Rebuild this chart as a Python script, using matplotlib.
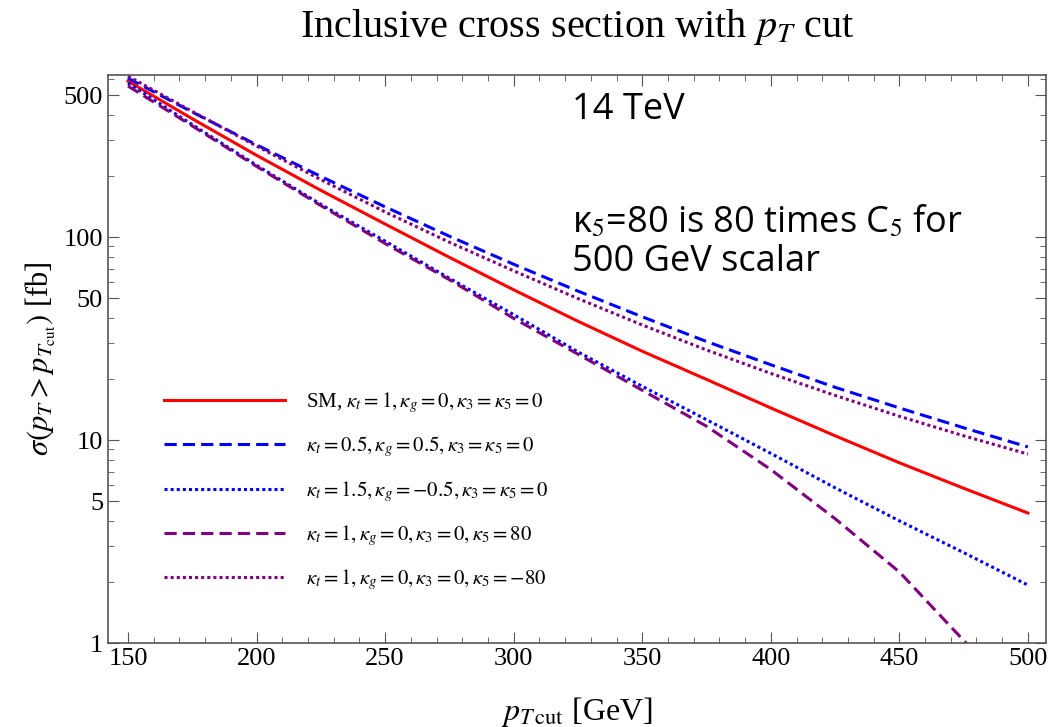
import matplotlib
matplotlib.use('Agg')
import matplotlib.pyplot as plt

plt.rcParams['font.family'] = ['Liberation Serif', 'DejaVu Serif']
plt.rcParams['mathtext.fontset'] = 'stix'

# pT cut values [GeV]
pt_cut = [150, 175, 200, 225, 250, 275, 300, 325, 350, 375, 400, 425, 450, 475, 500]

# sigma(pT > pT_cut) [fb]
sm = [587, 383, 253, 170, 116, 79.5, 55.0, 38.5, 27.4, 19.9, 14.4, 10.5, 7.73, 5.79, 4.37]
kt05_kg05 = [607, 413, 285, 199, 141, 101, 73.5, 54.2, 40.5, 30.6, 23.5, 18.2, 14.4, 11.5, 9.25]
kt15_kgm05 = [574, 358, 226, 145, 95.5, 62.7, 41.5, 27.2, 18.4, 12.6, 8.6, 5.82, 4.0, 2.79, 1.93]
k5_p80 = [555, 353, 223, 143, 93.0, 61.7, 39.8, 26.5, 17.6, 11.7, 7.16, 4.1, 2.24, 1.03, 0.48]
k5_m80 = [621, 416, 281, 192, 133, 94.4, 68.2, 49.8, 36.9, 27.8, 21.3, 16.6, 13.1, 10.5, 8.53]

labels = [
    r'SM, $\kappa_t = 1, \kappa_g = 0, \kappa_3 = \kappa_5 = 0$',
    r'$\kappa_t = 0.5, \kappa_g = 0.5, \kappa_3 = \kappa_5 = 0$',
    r'$\kappa_t = 1.5, \kappa_g = -0.5, \kappa_3 = \kappa_5 = 0$',
    r'$\kappa_t = 1, \kappa_g = 0, \kappa_3 = 0, \kappa_5 = 80$',
    r'$\kappa_t = 1, \kappa_g = 0, \kappa_3 = 0, \kappa_5 = -80$',
]

purple = '#800080'

fig = plt.figure(figsize=(10.48, 7.27), dpi=100)
ax = fig.add_axes([0.103, 0.1155, 0.895, 0.7815])

lw = 2.2
ax.plot(pt_cut, sm, color='red', lw=lw, label=labels[0])
ax.plot(pt_cut, kt05_kg05, color='blue', lw=lw, dashes=(4, 2), label=labels[1])
ax.plot(pt_cut, kt15_kgm05, color='blue', lw=lw, dashes=(1, 1), label=labels[2])
ax.plot(pt_cut, k5_p80, color=purple, lw=lw, dashes=(4, 2), label=labels[3])
ax.plot(pt_cut, k5_m80, color=purple, lw=lw, dashes=(1, 1), label=labels[4])

ax.set_yscale('log')
ax.set_xlim(142.2, 507)
ax.set_ylim(1, 630)
ax.set_xticks([150, 200, 250, 300, 350, 400, 450, 500])
ax.set_xticks(range(150, 501, 10), minor=True)
ax.set_yticks([1, 5, 10, 50, 100, 500])
ax.set_yticklabels(['1', '5', '10', '50', '100', '500'])

for s in ax.spines.values():
    s.set_color('#555555')
    s.set_linewidth(1.2)
ax.tick_params(which='both', direction='in', top=True, right=True, colors='#555555',
               labelcolor='black', labelsize=19)
ax.tick_params(which='major', length=8)
ax.tick_params(which='minor', length=4)

ax.set_title(r'Inclusive cross section with $p_T$ cut', fontsize=29, pad=27)
ax.set_xlabel(r'$p_{T\,\mathrm{cut}}$ [GeV]', fontsize=23, labelpad=18)
ax.set_ylabel(r'$\sigma(p_T > p_{T_{\mathrm{cut}}})$ [fb]', fontsize=22, labelpad=4)

leg = ax.legend(loc='upper left', bbox_to_anchor=(0.04, 0.478), frameon=False,
                fontsize=15, handlelength=5.8, handletextpad=1.0, labelspacing=0.93)

ax.text(0.495, 0.938, '14 TeV', transform=ax.transAxes, fontsize=26,
        family='Open Sans', va='center', ha='left')
ax.text(0.495, 0.705, r'κ$_5$=80 is 80 times C$_5$ for' + '\n' + '500 GeV scalar',
        transform=ax.transAxes, fontsize=26, family='Open Sans', va='center',
        ha='left', linespacing=1.1)

fig.savefig('out.png', dpi=100)
